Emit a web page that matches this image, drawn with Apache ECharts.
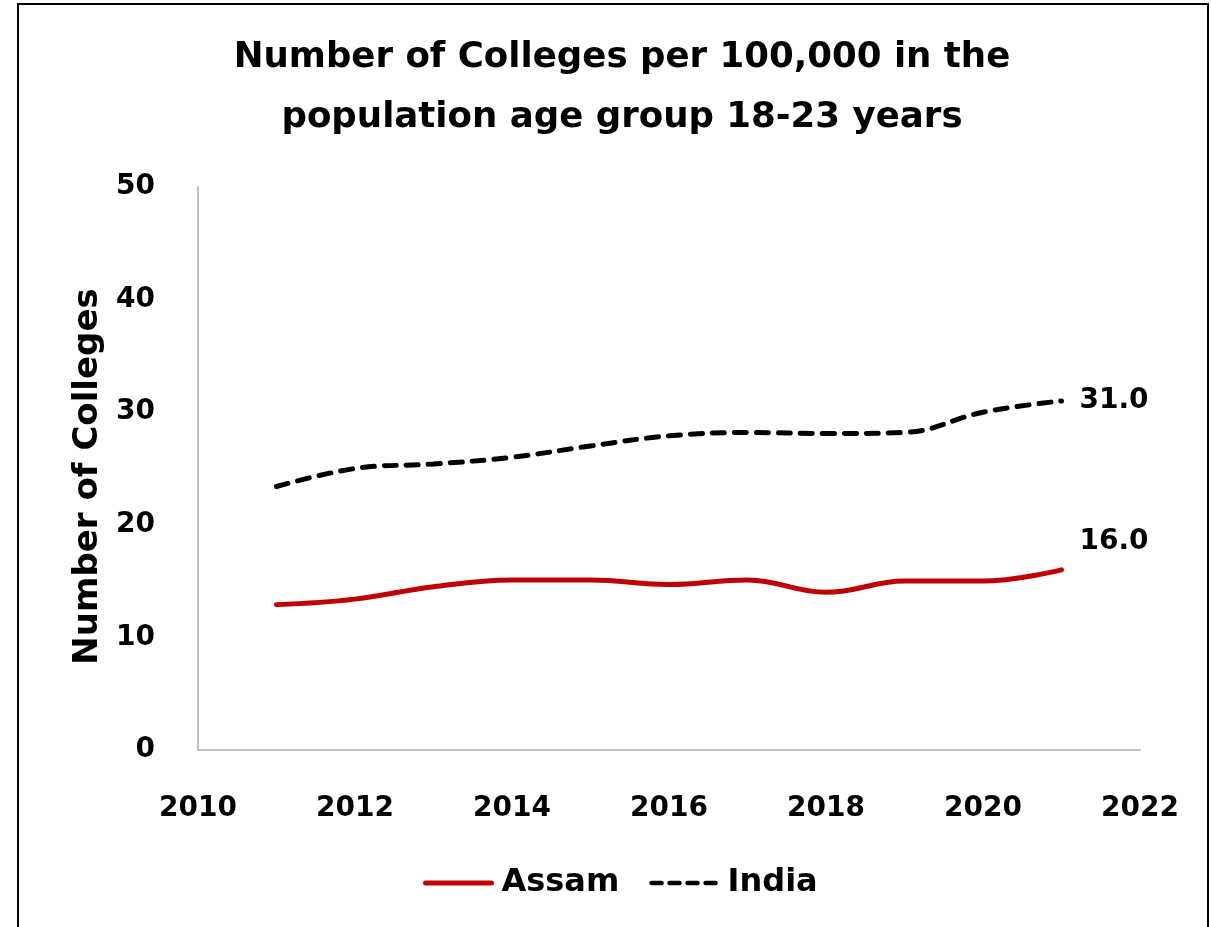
<!DOCTYPE html>
<html>
<head>
<meta charset="utf-8">
<script src="https://cdn.jsdelivr.net/npm/echarts@6/dist/echarts.min.js"></script>
<style>
html,body{margin:0;padding:0;background:#fff;}
#chart{width:1211px;height:927px;}
</style>
</head>
<body>
<div id="chart"></div>
<script>
const years = [2011, 2012, 2013, 2014, 2015, 2016, 2017, 2018, 2019, 2020, 2021];
const assam = [12.9, 13.4, 14.5, 15.1, 15.1, 14.7, 15.1, 14.0, 15.0, 15.0, 16.0];
const india = [23.4, 25.0, 25.4, 26.0, 27.0, 27.9, 28.2, 28.1, 28.2, 30.0, 31.0];
const titleText = 'Number of Colleges per 100,000 in the\npopulation age group 18-23 years';
const yAxisTitle = 'Number of Colleges';

const FONT = 'DejaVu Sans';
const chart = echarts.init(document.getElementById('chart'));
const toPairs = arr => years.map((y, i) => [y, arr[i]]);
const endLbl = (dy) => ({
  show: true,
  distance: 18,
  offset: [0, dy],
  fontFamily: FONT, fontWeight: 'bold', fontSize: 28, color: '#000',
  formatter: p => p.value[1].toFixed(1)
});
chart.setOption({
  backgroundColor: '#fff',
  animation: false,
  title: {
    text: titleText,
    left: 617,
    textAlign: 'center',
    top: 23,
    textStyle: { fontFamily: FONT, fontWeight: 'bold', fontSize: 35.6, color: '#000', lineHeight: 60 }
  },
  graphic: [{
    type: 'rect',
    shape: { x: 18, y: 4, width: 1190, height: 960 },
    style: { fill: 'none', stroke: '#000', lineWidth: 2 },
    silent: true
  }],
  legend: {
    bottom: 23,
    left: 418,
    itemWidth: 66,
    itemHeight: 14,
    itemGap: 30,
    itemStyle: { opacity: 0 },
    textStyle: { fontFamily: FONT, fontWeight: 'bold', fontSize: 32, color: '#000', padding: [0, 0, 0, 5] },
    data: [
      { name: 'Assam', lineStyle: { width: 5, cap: 'round' } },
      { name: 'India', lineStyle: { width: 4.5, type: [10, 8], cap: 'round' } }
    ]
  },
  grid: { left: 198, right: 71, top: 187, bottom: 177 },
  xAxis: {
    type: 'value',
    min: 2010, max: 2022, interval: 2,
    axisLine: { show: true, lineStyle: { color: '#bfbfbf', width: 2 } },
    axisTick: { show: false },
    splitLine: { show: false },
    axisLabel: {
      margin: 45,
      fontFamily: FONT, fontWeight: 'bold', fontSize: 28, color: '#000',
      formatter: v => String(v)
    }
  },
  yAxis: {
    type: 'value',
    min: 0, max: 50, interval: 10,
    name: yAxisTitle,
    nameLocation: 'middle',
    nameGap: 92,
    nameTextStyle: { fontFamily: FONT, fontWeight: 'bold', fontSize: 34, color: '#000', padding: [0, 16, 0, 0] },
    axisLine: { show: true, lineStyle: { color: '#bfbfbf', width: 2 } },
    axisTick: { show: false },
    splitLine: { show: false },
    axisLabel: { margin: 43, fontFamily: FONT, fontWeight: 'bold', fontSize: 28, color: '#000' }
  },
  series: [
    {
      name: 'Assam',
      type: 'line',
      data: toPairs(assam),
      smooth: 0.4,
      symbol: 'none',
      color: '#c00000',
      lineStyle: { color: '#c00000', width: 5, cap: 'round' },
      endLabel: endLbl(-28)
    },
    {
      name: 'India',
      type: 'line',
      data: toPairs(india),
      smooth: 0.4,
      symbol: 'none',
      color: '#000',
      lineStyle: { color: '#000', width: 5, type: [12, 10], cap: 'round' },
      endLabel: endLbl(0)
    }
  ]
});
</script>
</body>
</html>
